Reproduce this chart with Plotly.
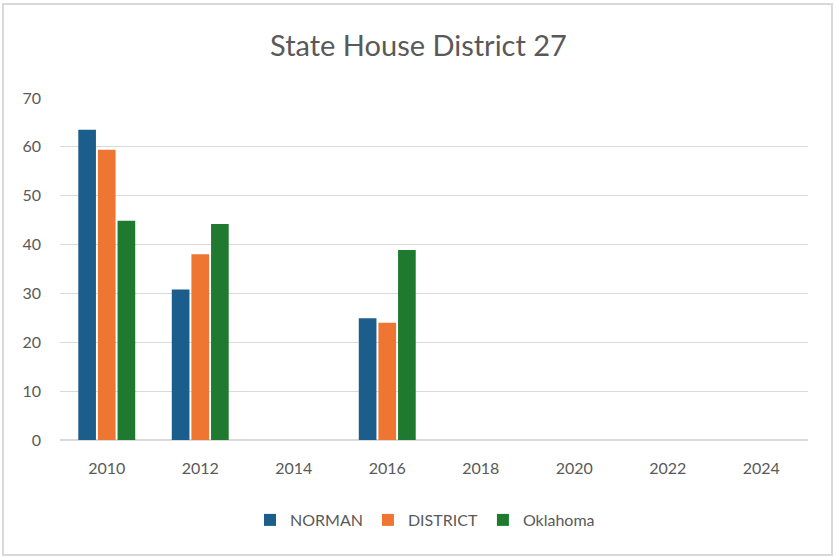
import plotly.graph_objects as go

years = ["2010", "2012", "2014", "2016", "2018", "2020", "2022", "2024"]
norman = [63.5, 30.8, None, 24.9, None, None, None, None]
district = [59.4, 38.0, None, 24.0, None, None, None, None]
oklahoma = [44.9, 44.2, None, 38.9, None, None, None, None]
series_names = ["NORMAN", "DISTRICT", "Oklahoma"]
colors = ["#1b5e8c", "#ef7533", "#1f7a2f"]

W, H = 837, 558
L, R, T, B = 60, 29, 98, 118
pw, ph = W - L - R, H - T - B


def px(x):
    return (x - L) / pw


def py(y):
    return (H - B - y) / ph


fig = go.Figure()
for name, vals, col in zip(series_names, [norman, district, oklahoma], colors):
    fig.add_trace(go.Bar(x=years, y=vals, name=name, marker=dict(color=col, line=dict(width=0))))

fig.update_layout(
    width=W, height=H,
    paper_bgcolor="white", plot_bgcolor="white",
    margin=dict(l=L, r=R, t=T, b=B, autoexpand=False),
    barmode="group", bargap=0.37, bargroupgap=0.1,
    font=dict(family="Lato, Open Sans, sans-serif", color="#595959", size=16),
    title=dict(text="State House District 27", x=0.5, xanchor="center",
               y=1 - 46 / H, yanchor="middle",
               font=dict(size=29, color="#595959")),
    xaxis=dict(type="category", showgrid=False, showline=False, ticks="",
               automargin=False, ticklabelstandoff=17,
               tickfont=dict(size=16, color="#595959")),
    yaxis=dict(range=[0, 70], dtick=10, showgrid=True, gridcolor="#d9d9d9",
               gridwidth=1, zeroline=True, zerolinecolor="#d9d9d9",
               showline=False, ticks="", ticklabelstandoff=18, automargin=False,
               tickfont=dict(size=16, color="#595959")),
    legend=dict(orientation="h", x=px(425), xanchor="center", y=py(520),
                yanchor="middle", font=dict(size=16, color="#595959"),
                itemwidth=30, traceorder="normal"),
    showlegend=True,
    shapes=[dict(type="rect", xref="paper", yref="paper",
                 x0=px(3), x1=px(832), y0=py(555), y1=py(4),
                 line=dict(color="#d9d9d9", width=2), layer="below")],
)

fig.write_html("out.html", config={"displayModeBar": False},
               post_script="document.body.style.margin='0px';document.body.style.overflow='hidden';")
